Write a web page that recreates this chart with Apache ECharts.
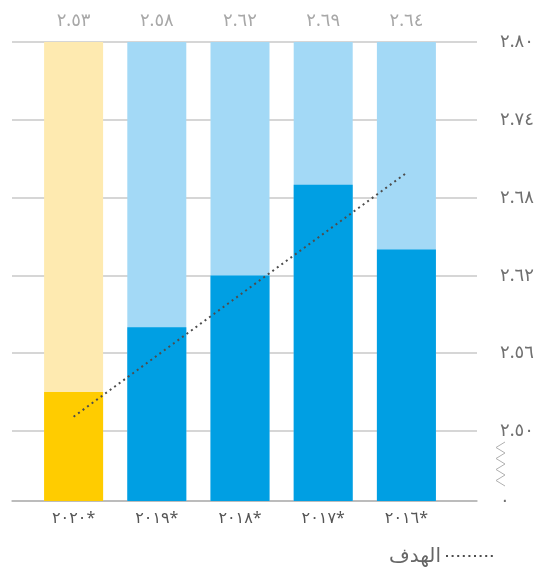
<!DOCTYPE html>
<html lang="ar">
<head>
<meta charset="UTF-8">
<title>الهدف</title>
<script src="https://cdn.jsdelivr.net/npm/echarts@6.0.0/dist/echarts.min.js"></script>
<style>
  html, body { margin: 0; padding: 0; background: #fff; }
  #chart { width: 544px; height: 570px; }
</style>
</head>
<body>
<div id="chart"></div>
<script>
// data
var years = ['٢٠٢٠*', '٢٠١٩*', '٢٠١٨*', '٢٠١٧*', '٢٠١٦*'];
var values = [2.53, 2.58, 2.62, 2.69, 2.64];
var target = [2.511, 2.558, 2.605, 2.652, 2.699];
var yTicks = [2.446, 2.50, 2.56, 2.62, 2.68, 2.74, 2.80];
var yTickLabels = ['٠', '٢.٥٠', '٢.٥٦', '٢.٦٢', '٢.٦٨', '٢.٧٤', '٢.٨٠'];
var yMin = 2.446;   // stands for 0 (axis is broken)
var yMax = 2.80;

var FONT = "'Noto Sans', 'DejaVu Sans', sans-serif";

function arabicDigits(s) {
    var d = '٠١٢٣٤٥٦٧٨٩';
    return String(s).replace(/[0-9]/g, function (c) { return d[+c]; });
}

var bgData = [];
var fgData = [];
for (var i = 0; i < years.length; i++) {
    var isNow = i === 0;
    bgData.push({ value: yMax, itemStyle: { color: isNow ? '#feeab0' : '#a3d9f6' } });
    fgData.push({ value: values[i], itemStyle: { color: isNow ? '#ffcc00' : '#009fe3' } });
}

var myChart = echarts.init(document.getElementById('chart'));

var option = {
    animation: false,
    textStyle: { fontFamily: FONT },
    grid: [
        { left: 32, right: 96, top: 42, bottom: 69 },
        { left: 12, right: 67, top: 42, bottom: 69 }
    ],
    legend: {
        data: ['الهدف'],
        right: 44,
        top: 541,
        align: 'right',
        itemWidth: 48,
        itemHeight: 10,
        itemGap: 10,
        itemStyle: { opacity: 0 },
        textStyle: { fontSize: 20, color: '#666', fontFamily: FONT }
    },
    xAxis: [
        {
            type: 'category',
            gridIndex: 0,
            data: years,
            axisLine: { show: false },
            axisTick: { show: false },
            axisLabel: { color: '#555', fontSize: 16, margin: 9, fontFamily: FONT }
        },
        {
            type: 'value',
            gridIndex: 1,
            min: 0,
            max: 1,
            axisLine: { show: true, lineStyle: { color: '#b4b4b4', width: 1.5 } },
            axisTick: { show: false },
            axisLabel: { show: false },
            splitLine: { show: false }
        }
    ],
    yAxis: [
        {
            type: 'value',
            gridIndex: 0,
            min: yMin,
            max: yMax,
            startValue: yMin,
            show: false,
            splitLine: { show: false }
        },
        {
            type: 'value',
            gridIndex: 1,
            position: 'right',
            min: yMin,
            max: yMax,
            axisLine: { show: false },
            axisTick: { show: false, customValues: yTicks },
            axisLabel: {
                customValues: yTicks,
                margin: 23,
                fontSize: 18,
                color: '#707070',
                fontFamily: FONT,
                formatter: function (v) {
                    var idx = yTicks.indexOf(v);
                    return idx >= 0 ? yTickLabels[idx] : '';
                }
            },
            splitLine: { show: true, lineStyle: { color: '#d6d6d6', width: 2 } }
        }
    ],
    series: [
        {
            name: 'bg',
            type: 'bar',
            xAxisIndex: 0,
            yAxisIndex: 0,
            barWidth: 59,
            data: bgData,
            silent: true,
            label: {
                show: true,
                position: 'top',
                distance: 12,
                fontSize: 18,
                color: '#a8a8a8',
                fontFamily: FONT,
                formatter: function (p) {
                    return arabicDigits(values[p.dataIndex].toFixed(2));
                }
            }
        },
        {
            name: 'value',
            type: 'bar',
            xAxisIndex: 0,
            yAxisIndex: 0,
            barWidth: 59,
            barGap: '-100%',
            data: fgData
        },
        {
            name: 'الهدف',
            type: 'line',
            xAxisIndex: 0,
            yAxisIndex: 0,
            data: target,
            symbol: 'none',
            z: 5,
            lineStyle: { color: '#4d4d4d', width: 2, type: [2, 3.6] },
            itemStyle: { color: '#4d4d4d' }
        }
    ],
    graphic: [
        {
            type: 'polyline',
            silent: true,
            shape: {
                points: [[505, 442], [496, 447.5], [505, 453], [496, 458.5], [505, 464],
                         [496, 469.5], [505, 475], [496, 480.5], [505, 486]]
            },
            style: { stroke: '#b0b0b0', lineWidth: 1, fill: null }
        }
    ]
};

myChart.setOption(option);
</script>
</body>
</html>
